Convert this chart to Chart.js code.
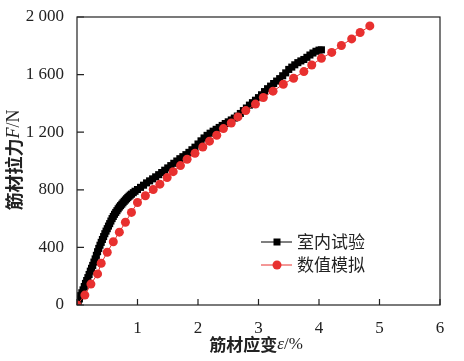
<!DOCTYPE html>
<html lang="zh">
<head>
<meta charset="UTF-8">
<title>筋材拉力-应变</title>
<script src="https://cdn.jsdelivr.net/npm/chart.js@4.4.0/dist/chart.umd.min.js"></script>
<style>
  body { margin: 0; background: #fff; }
  #wrap { width: 464px; height: 361px; }
</style>
</head>
<body>
<div id="wrap"><canvas id="myChart" width="464" height="361"></canvas></div>
<script>
  // 室内试验
  const testStrain = [0.00, 0.02, 0.04, 0.06, 0.08, 0.10, 0.12, 0.14, 0.16, 0.18, 0.20, 0.22, 0.24, 0.26,
    0.28, 0.30, 0.32, 0.34, 0.36, 0.38, 0.40, 0.42, 0.44, 0.46, 0.48, 0.50, 0.52, 0.54, 0.56, 0.58,
    0.60, 0.62, 0.64, 0.66, 0.68, 0.70, 0.72, 0.74, 0.76, 0.78, 0.80, 0.82, 0.84, 0.86, 0.88, 0.90,
    0.93, 0.96, 1.00, 1.05, 1.10, 1.15, 1.20,
    1.25, 1.30, 1.35, 1.40, 1.45, 1.50, 1.55, 1.60, 1.65, 1.70, 1.75, 1.80, 1.85, 1.90, 1.95, 2.00,
    2.05, 2.10, 2.15, 2.20, 2.25, 2.30, 2.35, 2.40, 2.45, 2.50, 2.55, 2.60, 2.65, 2.70, 2.75, 2.80,
    2.85, 2.90, 2.95, 3.00, 3.05, 3.10, 3.15, 3.20, 3.25, 3.30, 3.35, 3.40, 3.45, 3.50, 3.55, 3.60,
    3.65, 3.70, 3.75, 3.80, 3.85, 3.90, 3.95, 4.00, 4.04];
  const testForce = [0, 20, 42, 65, 85, 105, 128, 150, 170, 190, 212, 235, 255, 275,
    298, 320, 345, 370, 393, 415, 435, 455, 475, 495, 513, 530, 548, 565, 583, 600,
    615, 630, 643, 655, 668, 680, 690, 700, 710, 720, 729, 738, 747, 755, 763, 770,
    780, 790, 802, 817, 832, 848, 862,
    876, 890, 905, 920, 936, 952, 968, 984, 1000, 1016, 1030, 1044, 1060, 1078, 1096, 1118,
    1140, 1160, 1178, 1193, 1207, 1220, 1233, 1247, 1260, 1272, 1285, 1298, 1312, 1330, 1350, 1368,
    1388, 1405, 1422, 1440, 1460, 1482, 1502, 1520, 1538, 1555, 1572, 1592, 1612, 1636, 1652, 1668,
    1683, 1695, 1705, 1720, 1736, 1750, 1762, 1770, 1772];

  // 数值模拟
  const simStrain = [0.00, 0.13, 0.23, 0.34, 0.40, 0.50, 0.60, 0.70, 0.80, 0.90, 1.00, 1.13, 1.26, 1.37,
    1.49, 1.59, 1.71, 1.82, 1.95, 2.08, 2.19, 2.31, 2.42, 2.55, 2.66, 2.79, 2.95, 3.08, 3.24, 3.41,
    3.58, 3.75, 3.88, 4.04, 4.21, 4.37, 4.54, 4.68, 4.84];
  const simForce = [0, 69, 145, 216, 290, 366, 439, 506, 575, 643, 712, 759, 802, 839,
    885, 926, 968, 1012, 1053, 1097, 1138, 1179, 1225, 1264, 1306, 1350, 1395, 1441, 1485, 1533,
    1575, 1621, 1667, 1713, 1754, 1802, 1848, 1892, 1938];

  const seriesNames = ['室内试验', '数值模拟'];
  const xTicks = [0, 1, 2, 3, 4, 5, 6];
  const yTicks = [0, 400, 800, 1200, 1600, 2000];

  const pairs = (xs, ys) => xs.map((x, i) => ({ x: x, y: ys[i] }));
  const RED = '#e8302f';

  /* box + inward ticks */
  const frame = {
    id: 'frame',
    afterDraw(chart) {
      const { ctx, chartArea: a, scales } = chart;
      ctx.save();
      ctx.strokeStyle = '#222';
      ctx.lineWidth = 1.2;
      ctx.strokeRect(a.left, a.top, a.right - a.left, a.bottom - a.top);
      ctx.beginPath();
      xTicks.forEach(v => {
        const px = scales.x.getPixelForValue(v);
        ctx.moveTo(px, a.bottom);
        ctx.lineTo(px, a.bottom - 6);
      });
      yTicks.forEach(v => {
        const py = scales.y.getPixelForValue(v);
        ctx.moveTo(a.left, py);
        ctx.lineTo(a.left + 7, py);
      });
      ctx.stroke();
      ctx.restore();
    }
  };

  /* legend inside the plot */
  const innerLegend = {
    id: 'innerLegend',
    afterDraw(chart) {
      const ctx = chart.ctx;
      ctx.save();
      chart.data.datasets.forEach((ds, i) => {
        const y = 242 + i * 23;
        ctx.strokeStyle = ds.borderColor;
        ctx.lineWidth = 1;
        ctx.beginPath();
        ctx.moveTo(261, y);
        ctx.lineTo(292, y);
        ctx.stroke();
        ctx.fillStyle = ds.pointBackgroundColor;
        if (ds.pointStyle === 'rect') {
          ctx.fillRect(277 - 3.5, y - 3.5, 7, 7);
        } else {
          ctx.beginPath();
          ctx.arc(277, y, 4.5, 0, Math.PI * 2);
          ctx.fill();
        }
        ctx.fillStyle = '#222';
        ctx.font = '17px "Noto Sans CJK SC"';
        ctx.textBaseline = 'middle';
        ctx.textAlign = 'left';
        ctx.fillText(ds.label, 297, y);
      });
      ctx.restore();
    }
  };

  /* axis titles with mixed fonts */
  function drawParts(ctx, parts, cx, cy) {
    let total = 0;
    parts.forEach(p => { ctx.font = p.font; p.w = ctx.measureText(p.text).width; total += p.w; });
    let x = cx - total / 2;
    parts.forEach(p => {
      ctx.font = p.font;
      ctx.fillText(p.text, x, cy);
      x += p.w;
    });
  }

  const axisTitles = {
    id: 'axisTitles',
    afterDraw(chart) {
      const ctx = chart.ctx;
      ctx.save();
      ctx.fillStyle = '#222';
      ctx.textBaseline = 'middle';
      ctx.textAlign = 'left';
      drawParts(ctx, [
        { text: '筋材应变', font: 'bold 17px "Noto Sans CJK SC"' },
        { text: 'ε', font: 'italic 17px "Liberation Serif"' },
        { text: '/%', font: '17px "Liberation Serif"' }
      ], 256, 345);
      ctx.translate(14, 160);
      ctx.rotate(-Math.PI / 2);
      drawParts(ctx, [
        { text: '筋材拉力', font: 'bold 18px "Noto Sans CJK SC"' },
        { text: 'F', font: 'italic 18px "Liberation Serif"' },
        { text: '/N', font: '18px "Liberation Serif"' }
      ], 0, 0);
      ctx.restore();
    }
  };

  const tickFont = { family: '"Liberation Serif", "Times New Roman", serif', size: 17 };

  const config = {
    type: 'line',
    data: {
      datasets: [
        {
          label: seriesNames[0],
          data: pairs(testStrain, testForce),
          borderColor: '#000',
          borderWidth: 1,
          pointStyle: 'rect',
          pointRadius: 5,
          pointBackgroundColor: '#000',
          pointBorderWidth: 0,
          order: 2
        },
        {
          label: seriesNames[1],
          data: pairs(simStrain, simForce),
          borderColor: RED,
          borderWidth: 1,
          pointStyle: 'circle',
          pointRadius: 4.5,
          pointBackgroundColor: RED,
          pointBorderWidth: 0,
          order: 1
        }
      ]
    },
    options: {
      responsive: false,
      animation: false,
      layout: { padding: { left: 0, right: 24, top: 17, bottom: 0 } },
      plugins: {
        legend: { display: false },
        tooltip: { enabled: false }
      },
      scales: {
        x: {
          type: 'linear',
          min: 0,
          max: 6,
          afterBuildTicks: s => { s.ticks = xTicks.map(v => ({ value: v })); },
          afterFit: s => { s.height = 56; },
          grid: { display: false },
          border: { display: false },
          ticks: {
            color: '#222',
            font: tickFont,
            padding: 5,
            maxRotation: 0,
            callback: v => (v === 0 ? '' : String(v))
          }
        },
        y: {
          type: 'linear',
          min: 0,
          max: 2000,
          afterBuildTicks: s => { s.ticks = yTicks.map(v => ({ value: v })); },
          afterFit: s => { s.width = 77; },
          grid: { display: false },
          border: { display: false },
          ticks: {
            color: '#222',
            font: tickFont,
            padding: 5,
            callback: v => (v >= 1000 ? String(v).replace(/(\d)(\d{3})$/, '$1 $2') : String(v))
          }
        }
      }
    },
    plugins: [frame, innerLegend, axisTitles]
  };

  new Chart(document.getElementById('myChart'), config);
</script>
</body>
</html>
